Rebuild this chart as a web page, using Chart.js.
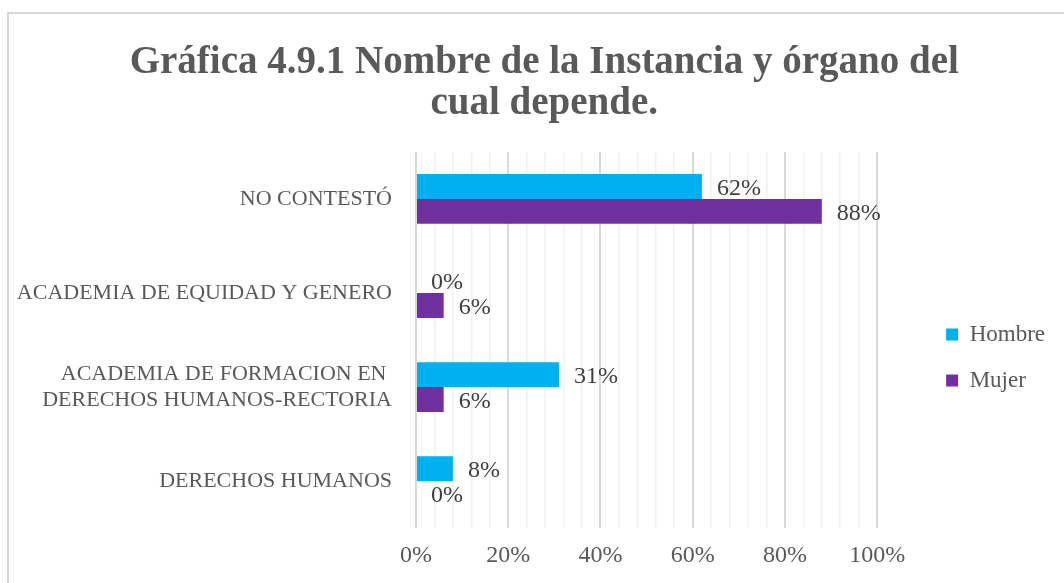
<!DOCTYPE html>
<html>
<head>
<meta charset="utf-8">
<script src="https://cdn.jsdelivr.net/npm/chart.js@4.4.1/dist/chart.umd.min.js"></script>
<style>
  html, body { margin: 0; padding: 0; background: #fff; overflow: hidden; }
  #frame {
    position: absolute; left: 7px; top: 12px; width: 1080px; height: 600px;
    border: 2px solid #d9d9d9; box-sizing: border-box;
  }
  #wrap { position: absolute; left: 0; top: 0; width: 1064px; height: 583px; }
</style>
</head>
<body>
<div id="frame"></div>
<div id="wrap"><canvas id="chart"></canvas></div>
<script>
const categorias = [
  'NO CONTESTÓ',
  'ACADEMIA DE EQUIDAD Y GENERO',
  ['ACADEMIA DE FORMACION EN ', 'DERECHOS HUMANOS-RECTORIA'],
  'DERECHOS HUMANOS'
];
const hombre = [62, 0, 31, 8];
const mujer = [88, 6, 6, 0];

const serif = "'Liberation Serif', 'DejaVu Serif', serif";
const gris = '#595959';

// etiquetas de valor al final de cada barra
const etiquetas = {
  id: 'etiquetas',
  afterDatasetsDraw(chart) {
    const ctx = chart.ctx;
    ctx.save();
    ctx.font = '24px ' + serif;
    ctx.fillStyle = '#404040';
    ctx.textAlign = 'left';
    ctx.textBaseline = 'middle';
    chart.data.datasets.forEach((ds, i) => {
      chart.getDatasetMeta(i).data.forEach((bar, j) => {
        ctx.fillText(ds.data[j] + '%', bar.x + 15, bar.y + 2);
      });
    });
    ctx.restore();
  }
};

new Chart(document.getElementById('chart'), {
  type: 'bar',
  data: {
    labels: categorias,
    datasets: [
      { label: 'Hombre', data: hombre, backgroundColor: '#00B0F0' },
      { label: 'Mujer', data: mujer, backgroundColor: '#7030A0' }
    ]
  },
  options: {
    indexAxis: 'y',
    responsive: true,
    maintainAspectRatio: false,
    animation: false,
    categoryPercentage: 0.53,
    barPercentage: 1,
    layout: { padding: { left: 14, right: 9, top: 42, bottom: 0 } },
    plugins: {
      title: {
        display: true,
        text: ['  Gráfica 4.9.1 Nombre de la Instancia y órgano del', '  cual depende.'],
        color: gris,
        font: { family: serif, size: 39, weight: 'bold', lineHeight: 1.05 },
        padding: { top: 0, bottom: 28 }
      },
      legend: {
        position: 'right',
        title: { display: true, text: ' ', font: { size: 10 }, padding: { top: 78, bottom: 0 } },
        labels: {
          color: gris,
          font: { family: serif, size: 23 },
          boxWidth: 12,
          boxHeight: 12,
          padding: 23
        }
      },
      tooltip: { enabled: false }
    },
    scales: {
      x: {
        min: 0,
        max: 100,
        border: { display: false },
        grid: {
          drawTicks: false,
          color: c => (c.tick && c.tick.value % 20 === 0) ? '#d9d9d9' : '#f0f0f0',
          lineWidth: c => (c.tick && c.tick.value % 20 === 0) ? 2 : 1.5
        },
        ticks: {
          stepSize: 4,
          autoSkip: false,
          maxRotation: 0,
          padding: 13,
          color: gris,
          font: { family: serif, size: 24 },
          callback: v => (v % 20 === 0 ? v + '%' : '')
        }
      },
      y: {
        border: { display: false },
        grid: { display: false, drawTicks: false },
        afterFit: s => { s.width = 402; },
        ticks: {
          padding: 24,
          color: gris,
          font: { family: serif, size: 22 }
        }
      },
      hueco: {
        axis: 'y',
        type: 'category',
        position: 'right',
        display: true,
        border: { display: false },
        grid: { display: false, drawTicks: false },
        ticks: { display: false },
        afterFit: s => { s.width = 46; }
      }
    }
  },
  plugins: [etiquetas]
});
</script>
</body>
</html>
